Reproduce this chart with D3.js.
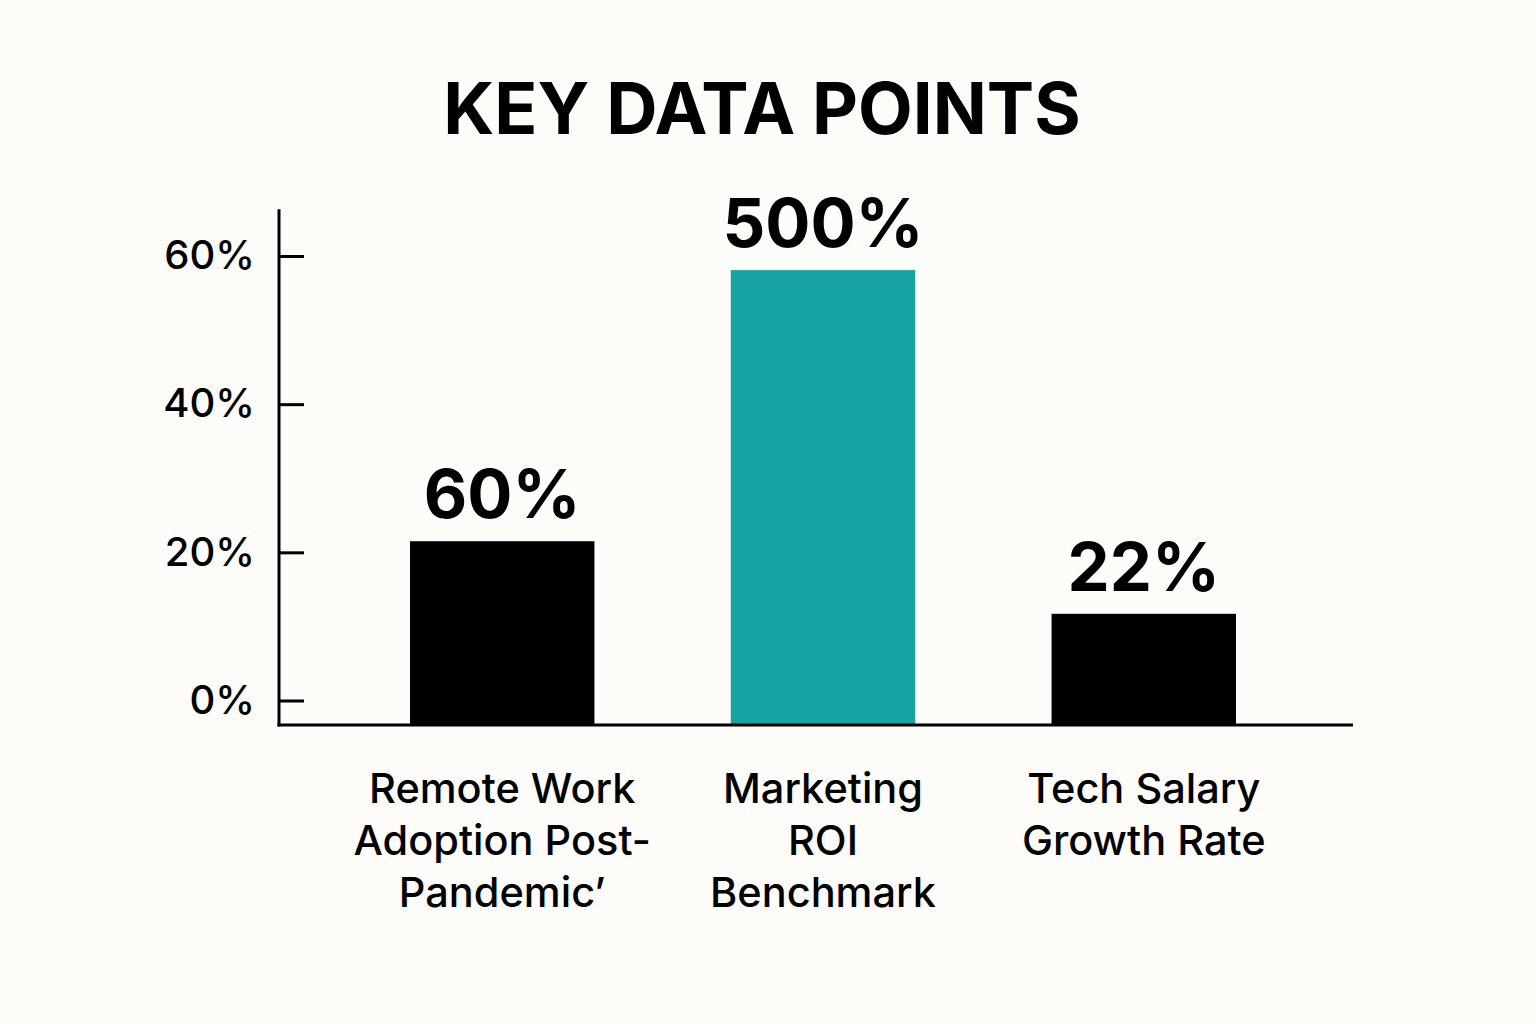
<!DOCTYPE html>
<html><head><meta charset="utf-8">
<script src="https://cdn.jsdelivr.net/npm/d3@7"></script>
<style>
html,body{margin:0;padding:0;background:#fdfcf8;}
svg{display:block;font-family:Inter,"Noto Sans",sans-serif;}
</style></head>
<body>
<svg id="c" width="1536" height="1024"></svg>
<script>
const title = "KEY DATA POINTS";
const categories = [
  ["Remote Work","Adoption Post-","Pandemic’"],
  ["Marketing","ROI","Benchmark"],
  ["Tech Salary","Growth Rate"]
];
const barValues = [21.5, 58.1, 11.7];
const valueLabels = ["60%","500%","22%"];
const barColors = ["#000000","#17a39f","#000000"];
const yTicks = [0,20,40,60];
const yDomain = [-3.3, 66.3];

const svg = d3.select("#c");
svg.append("rect").attr("width",1536).attr("height",1024).attr("fill","#fdfcf8");

const y = d3.scaleLinear().domain([0,60]).range([700.5,256]);
const keys = categories.map((c,i)=>i);
const x = d3.scaleBand().domain(keys).range([410,1236]).paddingInner(0.425).paddingOuter(0);
const axisX0 = 279, axisX1 = 1353;

svg.append("text").attr("x",762).attr("y",134).attr("text-anchor","middle")
  .attr("font-size",71).attr("font-weight",700).attr("fill","#000").text(title);

// bars
svg.selectAll("rect.bar").data(barValues).join("rect").attr("class","bar")
  .attr("x",(d,i)=>x(i)).attr("width",x.bandwidth())
  .attr("y",d=>y(d)).attr("height",d=>y(yDomain[0])-y(d))
  .attr("fill",(d,i)=>barColors[i]);

// value labels
svg.selectAll("text.val").data(barValues).join("text").attr("class","val")
  .attr("x",(d,i)=>x(i)+x.bandwidth()/2).attr("y",d=>y(d)-23)
  .attr("text-anchor","middle").attr("font-size",67).attr("font-weight",700)
  .attr("fill","#000").text((d,i)=>valueLabels[i]);

// y axis
const yAxis = d3.axisLeft(y).tickValues(yTicks).tickFormat(d=>d+"%")
  .tickSizeInner(-25).tickSizeOuter(0).tickPadding(24);
const gy = svg.append("g").attr("transform",`translate(${axisX0},0)`).call(yAxis);
gy.select(".domain").remove();
gy.selectAll(".tick line").attr("stroke","#000").attr("stroke-width",3);
gy.selectAll(".tick text").attr("font-size",40).attr("font-weight",500).attr("fill","#000")
  .attr("font-family","Inter,'Noto Sans',sans-serif");

// axis lines
svg.append("line").attr("x1",axisX0).attr("x2",axisX0).attr("y1",y(yDomain[1])).attr("y2",y(yDomain[0])+1.5)
  .attr("stroke","#000").attr("stroke-width",3);
svg.append("line").attr("x1",axisX0-1.5).attr("x2",axisX1).attr("y1",y(yDomain[0])).attr("y2",y(yDomain[0]))
  .attr("stroke","#000").attr("stroke-width",3);

// category labels
const cg = svg.selectAll("text.cat").data(categories).join("text").attr("class","cat")
  .attr("x",(d,i)=>x(i)+x.bandwidth()/2).attr("y",803)
  .attr("text-anchor","middle").attr("font-size",41.5).attr("font-weight",500).attr("fill","#000");
cg.selectAll("tspan").data(d=>d).join("tspan")
  .attr("x",function(){return this.parentNode.getAttribute("x");})
  .attr("dy",(d,j)=>j===0?0:52).text(d=>d);
</script>
</body></html>
